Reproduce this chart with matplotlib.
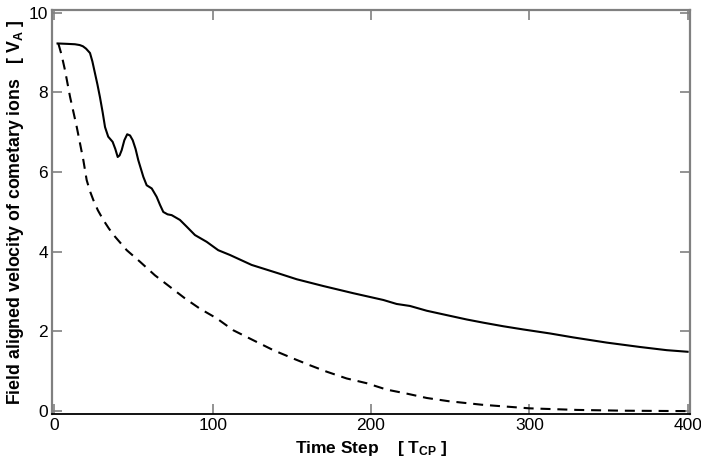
import matplotlib
matplotlib.use("Agg")
import matplotlib.pyplot as plt

plt.rcParams['font.family'] = ['Liberation Sans', 'DejaVu Sans']
plt.rcParams['mathtext.fontset'] = 'custom'
plt.rcParams['mathtext.rm'] = 'Liberation Sans:bold'
plt.rcParams['mathtext.bf'] = 'Liberation Sans:bold'
plt.rcParams['mathtext.it'] = 'Liberation Sans:bold'

# Solid curve: field aligned velocity (case 1)
t_solid = [2, 8, 13, 16, 18, 20, 22.5, 24, 25.6, 27.2, 28.8, 30.5, 32, 34, 36.8,
           38.5, 40, 41.2, 42.5, 44.2, 46, 47.8, 49.5, 51.3, 53, 56.2, 58.3,
           61.5, 64.6, 66.7, 68.8, 71.5, 74.1, 79.3, 83.6, 88.8, 96.2, 103.5,
           110.9, 124.6, 141.4, 153.1, 169.9, 188.8, 207.8, 216.2, 224.6, 235.2,
           247.8, 260.5, 271, 283.6, 296.2, 313, 327.8, 348.9, 369.9, 386.8, 400]
v_solid = [9.23, 9.22, 9.21, 9.19, 9.16, 9.10, 8.99, 8.78, 8.49, 8.20, 7.88, 7.50,
           7.13, 6.89, 6.76, 6.58, 6.38, 6.42, 6.55, 6.80, 6.95, 6.92, 6.80,
           6.58, 6.30, 5.88, 5.67, 5.59, 5.38, 5.18, 5.0, 4.94, 4.92, 4.80, 4.63,
           4.42, 4.25, 4.04, 3.92, 3.67, 3.46, 3.31, 3.14, 2.96, 2.79, 2.69, 2.64,
           2.52, 2.41, 2.30, 2.22, 2.13, 2.05, 1.95, 1.85, 1.72, 1.61, 1.53, 1.49]

# Dashed curve: field aligned velocity (case 2)
t_dash = [2.5, 4.5, 6.7, 9.9, 14.1, 18.3, 20.4, 22.5, 24.6, 27.5, 30.9, 34.5,
          38.3, 45.7, 54.1, 63.5, 73, 82.5, 92, 102.5, 113, 125.6, 138.3, 150.9,
          161.5, 172, 184.6, 197.3, 209.9, 222.5, 235.2, 248.8, 270, 300, 330,
          360, 400]
v_dash = [9.23, 8.95, 8.56, 7.89, 7.14, 6.30, 5.80, 5.52, 5.30, 5.04, 4.80, 4.58,
          4.38, 4.04, 3.75, 3.41, 3.12, 2.83, 2.57, 2.33, 2.03, 1.78, 1.53, 1.32,
          1.15, 0.99, 0.82, 0.70, 0.54, 0.44, 0.33, 0.25, 0.16, 0.07, 0.03, 0.01,
          0.0]

x_ticks = [0, 100, 200, 300, 400]
y_ticks = [0, 2, 4, 6, 8, 10]

fig = plt.figure(figsize=(7.01, 4.62), dpi=100)
ax = fig.add_axes([52/701, 1 - 414.3/462, (690-52)/701, (414.3-10)/462])

ax.plot(t_solid, v_solid, color='black', lw=1.5, solid_joinstyle='round')
ax.plot(t_dash, v_dash, color='black', lw=1.5, linestyle=(0, (4.8, 3.3)))

ax.set_xlim(-1.5, 401.5)
ax.set_ylim(-0.08, 10.07)
ax.set_xticks(x_ticks)
ax.set_yticks(y_ticks)
ax.set_xticklabels([str(v) for v in x_ticks])
ax.set_yticklabels([str(v) for v in y_ticks])

gray = '#808080'
for side in ['left', 'top', 'right']:
    ax.spines[side].set_color(gray)
    ax.spines[side].set_linewidth(1.6)
ax.spines['bottom'].set_color('black')
ax.spines['bottom'].set_linewidth(1.3)

ax.tick_params(axis='both', which='major', direction='in', length=7, width=1.2,
               color=gray, labelsize=12.5, top=True, right=True, pad=3)

ax.set_xlabel(r'Time Step    [ T$_{\mathrm{CP}}$ ]', fontsize=12.5, fontweight='bold', labelpad=4)
ax.set_ylabel(r'Field aligned velocity of cometary ions   [ V$_{\mathrm{A}}$ ]',
              fontsize=12.8, fontweight='bold', labelpad=2)

fig.savefig('out.png', dpi=100)
